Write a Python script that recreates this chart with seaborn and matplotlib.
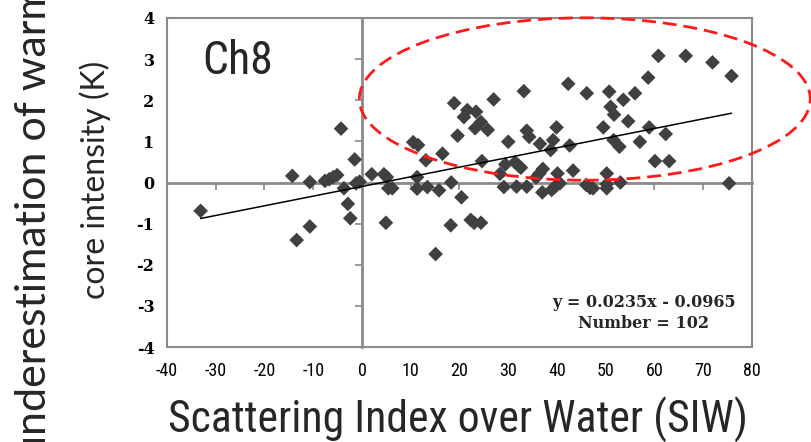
import matplotlib
matplotlib.use("Agg")
import matplotlib.pyplot as plt
from matplotlib import font_manager
from matplotlib.patches import Ellipse
import numpy as np
import pandas as pd
import seaborn as sns

# Scattering Index over Water (SIW) vs. warm-core underestimation (K), channel 8
siw = [
    -33.1, -14.3, -13.4, -10.7, -10.7, -7.6, -6.7, -5.9, -5.1, -4.3,
    -3.7, -2.9, -2.4, -1.5, -1.2, -0.5, 2.0, 4.5, 5.1, 5.4,
    6.2, 4.9, 10.5, 11.5, 13.1, 11.3, 11.3, 13.4, 15.8, 16.5,
    18.3, 18.2, 15.1, 18.9, 19.6, 20.4, 21.6, 20.9, 23.4, 24.4,
    23.2, 25.8, 27.0, 24.6, 22.3, 23.0, 24.4, 28.3, 29.1, 29.4,
    30.0, 31.4, 32.1, 32.6, 31.7, 33.2, 33.8, 34.3, 33.8, 36.5,
    38.7, 39.2, 39.9, 37.1, 36.4, 35.7, 37.0, 40.1, 40.6, 39.6,
    38.9, 42.3, 42.6, 43.3, 46.1, 46.0, 46.8, 47.4, 49.5, 50.2,
    50.2, 50.2, 50.7, 51.0, 51.7, 53.6, 56.0, 54.6, 51.6, 52.8,
    53.0, 57.0, 58.7, 58.9, 60.8, 66.4, 71.9, 75.8, 62.3, 60.1,
    63.0, 75.3,
]
warm_core_bias = [
    -0.69, 0.16, -1.40, 0.01, -1.07, 0.04, 0.08, 0.13, 0.18, 1.31,
    -0.14, -0.52, -0.87, 0.56, -0.02, 0.02, 0.20, 0.20, 0.13, -0.14,
    -0.14, -0.98, 0.98, 0.91, 0.54, 0.13, -0.15, -0.11, -0.19, 0.70,
    0.00, -1.04, -1.74, 1.93, 1.14, -0.36, 1.76, 1.59, 1.72, 1.47,
    1.32, 1.28, 2.02, 0.52, -0.91, -0.98, -0.98, 0.21, -0.11, 0.44,
    0.99, 0.49, 0.41, 0.36, -0.10, 2.22, 1.26, 1.11, -0.10, 0.94,
    0.79, 1.03, 1.34, 0.33, 0.22, 0.12, -0.24, 0.22, -0.02, -0.10,
    -0.18, 2.40, 0.90, 0.29, 2.17, -0.06, -0.13, -0.14, 1.34, 0.22,
    -0.04, -0.14, 2.21, 1.84, 1.65, 2.01, 2.17, 1.49, 1.03, 0.87,
    0.00, 0.99, 2.55, 1.34, 3.08, 3.08, 2.92, 2.59, 1.18, 0.52,
    0.52, -0.02,
]

# Linear fit reported on the chart
fit_slope = 0.0235
fit_intercept = -0.0965
n_cases = 102

x_ticks = [-40, -30, -20, -10, 0, 10, 20, 30, 40, 50, 60, 70, 80]
y_ticks = [-4, -3, -2, -1, 0, 1, 2, 3, 4]

# Highlighted region (centre x, centre y, width, height) in data units
highlight = (45.7, 2.03, 92.5, 3.95)


def first_font(candidates):
    names = {f.name for f in font_manager.fontManager.ttflist}
    for c in candidates:
        if c in names:
            return c
    return "DejaVu Sans"


narrow = first_font(["Liberation Sans Narrow", "Roboto Condensed", "Open Sans Condensed", "DejaVu Sans"])
serif = first_font(["DejaVu Serif", "Liberation Serif"])
label_sans = first_font(["Lato", "Open Sans", "Noto Sans", "DejaVu Sans"])

sns.set_theme(style="white")
plt.rcParams["font.family"] = ["DejaVu Sans"]
plt.rcParams["axes.unicode_minus"] = False

W, H = 812, 442
fig = plt.figure(figsize=(W / 100, H / 100), dpi=100)
pos = [167 / W, 1 - 347 / H, (752 - 167) / W, (347 - 18) / H]

grey = "#8a8a8a"

# Background axes carrying the cross-hair axes through the origin
ax0 = fig.add_axes(pos)
ax0.set_xlim(-40, 80)
ax0.set_ylim(-4, 4)
ax0.set_facecolor("white")
for side in ["top", "right"]:
    ax0.spines[side].set_visible(False)
ax0.spines["left"].set_position(("data", 0))
ax0.spines["bottom"].set_position(("data", 0))
for side in ["left", "bottom"]:
    ax0.spines[side].set_color(grey)
    ax0.spines[side].set_linewidth(2.0)
ax0.set_xticks(x_ticks)
ax0.set_yticks(y_ticks)
ax0.tick_params(axis="both", direction="out", length=5, width=1.2, color=grey,
                labelleft=False, labelbottom=False, left=True, bottom=True)

# Main axes with data, frame and labels
ax = fig.add_axes(pos, sharex=ax0, sharey=ax0)
ax.patch.set_alpha(0)
for side in ax.spines.values():
    side.set_color(grey)
    side.set_linewidth(1.5)

df = pd.DataFrame({"SIW": siw, "bias": warm_core_bias})
sns.scatterplot(data=df, x="SIW", y="bias", ax=ax, marker="D", s=56,
                color="#404040", edgecolor="none", linewidth=0, zorder=3)

xfit = np.array([min(siw), max(siw)])
fit_df = pd.DataFrame({"SIW": xfit, "bias": fit_slope * xfit + fit_intercept})
sns.lineplot(data=fit_df, x="SIW", y="bias", ax=ax, color="black", linewidth=1.1, zorder=4)

ax.add_patch(Ellipse(highlight[:2], highlight[2], highlight[3], fill=False,
                     edgecolor="#ff1a1a", linewidth=2.0, linestyle=(0, (5, 2.5)),
                     clip_on=False, zorder=5))

ax.set_xlim(-40, 80)
ax.set_ylim(-4, 4)
ax.set_xticks(x_ticks)
ax.set_yticks(y_ticks)
ax.set_xticklabels([str(v) for v in x_ticks], fontfamily=narrow, fontsize=13)
ax.set_yticklabels([str(v) for v in y_ticks], fontfamily=serif, fontsize=11.5, fontweight="bold")
ax.tick_params(axis="x", length=0, pad=11, colors="black")
ax.tick_params(axis="y", length=0, pad=9, colors="black")
ax.set_xlabel("")
ax.set_ylabel("")

ax.text(0.06, 0.87, "Ch8", transform=ax.transAxes, fontfamily=narrow, fontsize=33,
        ha="left", va="center")
ax.text(0.815, 0.103, f"y = {fit_slope}x - {abs(fit_intercept)}\nNumber = {n_cases}",
        transform=ax.transAxes, fontfamily=serif, fontsize=11.5, fontweight="bold",
        ha="center", va="center", linespacing=1.3)

fig.text(458 / W, 1 - 420 / H, "Scattering Index over Water (SIW)", fontfamily=narrow,
         fontsize=31.5, ha="center", va="center")
fig.text(34 / W, 1 - 222 / H, "underestimation of warm", fontfamily=label_sans,
         fontsize=31, rotation=90, ha="center", va="center")
fig.text(95 / W, 1 - 180 / H, "core intensity (K)", fontfamily=label_sans,
         fontsize=23, rotation=90, ha="center", va="center")

fig.savefig("out.png", dpi=100)
